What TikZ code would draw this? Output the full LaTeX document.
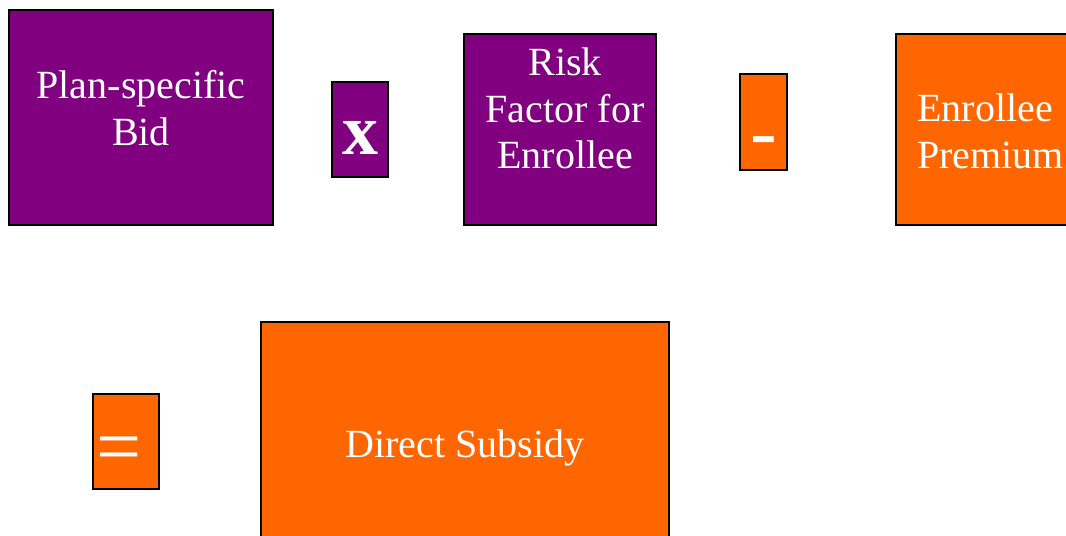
\documentclass[tikz,border=0pt]{standalone}
\usepackage{fontspec}
\setmainfont{Liberation Serif}
\definecolor{bidpurple}{HTML}{800080}
\definecolor{subsorange}{HTML}{FF6600}

\begin{document}
\begin{tikzpicture}[x=0.75pt, y=-0.75pt,
        box/.style={draw=black, line width=1.2pt, inner sep=0pt},
        pbox/.style={box, fill=bidpurple},
        obox/.style={box, fill=subsorange},
        txt/.style={text=white, align=center, inner sep=0pt, font=\fontsize{30}{35}\selectfont},
        op/.style={text=white, inner sep=0pt}]
    \useasboundingbox (0,0) rectangle (1066,535);
    \clip (0,0) rectangle (1066,535);
    % top row: bid x risk - premium
    \node[pbox, minimum width=198pt, minimum height=161.25pt] (bid) at (141,117.5) {};
    \node[txt] (bidtext) at ([shift={(0,-9.5)}]bid.center) {Plan-specific\\Bid};
    \node[pbox, minimum width=42pt, minimum height=71.25pt] (timesbox) at (360,129.5) {};
    \node[op, font=\bfseries\fontsize{54}{54}\selectfont] (times) at ([shift={(0,8.5)}]timesbox.center) {x};
    \node[pbox, minimum width=144pt, minimum height=143.25pt] (risk) at (560,129.5) {};
    \node[txt] (risktext) at ([shift={(5,-21)}]risk.center) {Risk\\Factor for\\Enrollee};
    \node[obox, minimum width=35.25pt, minimum height=72pt] (minusbox) at (763.5,122) {};
    \node[op, font=\fontsize{60}{60}\selectfont] (minus) at ([shift={(0,26)}]minusbox.center) {-};
    \node[obox, minimum width=144pt, minimum height=143.25pt] (premium) at (992,129.5) {};
    \node[txt, align=left, anchor=west] (premtext) at (917,131) {Enrollee\\Premium};
    % bottom row: = subsidy
    \node[obox, minimum width=49.5pt, minimum height=71.25pt] (eqbox) at (126,441.5) {};
    \node[op, font=\fontsize{60}{60}\selectfont] (equals) at ([shift={(-7,14)}]eqbox.center) {=};
    \node[obox, minimum width=306pt, minimum height=181.5pt] (subsidy) at (465,443) {};
    \node[txt, anchor=base] (subtext) at (465,457) {Direct Subsidy};
\end{tikzpicture}
\end{document}
